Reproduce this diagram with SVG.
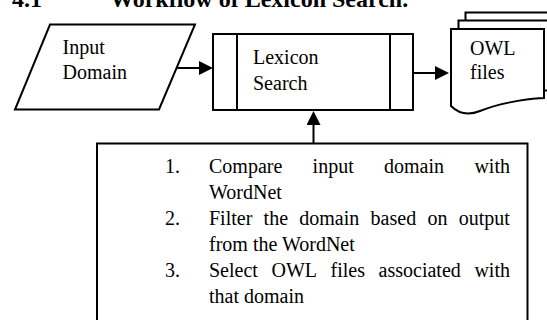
<svg xmlns="http://www.w3.org/2000/svg" width="547" height="320" viewBox="0 0 547 320">
  <style>
    .shape { fill: #ffffff; stroke: #000000; stroke-width: 2; }
    .edge { fill: none; stroke: #000000; stroke-width: 2; }
    .label { font-family: "Liberation Serif", "Times New Roman", serif; font-size: 20px; fill: #000000; }
    .title { font-family: "Liberation Serif", "Times New Roman", serif; font-size: 24px; font-weight: bold; fill: #000000; }
  </style>
  <defs>
    <marker id="arrow" markerUnits="userSpaceOnUse" markerWidth="14" markerHeight="14" refX="0" refY="7" orient="auto">
      <path d="M0,0 L14,7 L0,14 Z" fill="#000000"/>
    </marker>
  </defs>

  <rect x="0" y="0" width="547" height="320" fill="#ffffff"/>

  <!-- section heading, clipped at the top edge -->
  <g id="heading">
    <text class="title" x="12" y="7">4.1</text>
    <text class="title" x="110" y="7">Workflow of Lexicon Search.</text>
  </g>

  <!-- input (parallelogram) -->
  <g id="input-domain">
    <polygon class="shape" points="50,24.5 195,24.5 159,109.5 15,109.5"/>
    <text class="label" x="62.5" y="53.5">Input</text>
    <text class="label" x="62.5" y="79">Domain</text>
  </g>

  <!-- predefined process -->
  <g id="lexicon-search">
    <rect class="shape" x="213" y="34" width="200" height="76"/>
    <line class="edge" x1="237" y1="34" x2="237" y2="110"/>
    <line class="edge" x1="390" y1="34" x2="390" y2="110"/>
    <text class="label" x="253" y="64">Lexicon</text>
    <text class="label" x="253" y="90">Search</text>
  </g>

  <!-- stacked documents -->
  <g id="owl-files">
    <rect class="shape" x="465.5" y="12.5" width="100" height="70"/>
    <rect class="shape" x="458.5" y="20.5" width="100" height="70"/>
    <path class="shape" d="M451,29 H544 V98 C520,99 495,105 480,111 C470,115 460,115 451,106 Z"/>
    <text class="label" x="470" y="54.5">OWL</text>
    <text class="label" x="470" y="79">files</text>
  </g>

  <!-- steps box (justified lines placed word by word) -->
  <g id="steps">
    <rect class="shape" x="97" y="143.5" width="430.5" height="190"/>
    <g class="label">
      <text x="165" y="173">1.</text>
      <text y="173"><tspan x="209">Compare</tspan><tspan x="312.6">input</tspan><tspan x="384">domain</tspan><tspan x="474.4">with</tspan></text>
      <text x="209" y="199">WordNet</text>
      <text x="165" y="225">2.</text>
      <text y="225"><tspan x="209">Filter</tspan><tspan x="263.6">the</tspan><tspan x="299.3">domain</tspan><tspan x="370.6">based</tspan><tspan x="427.4">on</tspan><tspan x="458.8">output</tspan></text>
      <text x="209" y="251">from the WordNet</text>
      <text x="165" y="277">3.</text>
      <text y="277"><tspan x="209">Select</tspan><tspan x="271.5">OWL</tspan><tspan x="330.6">files</tspan><tspan x="378.6">associated</tspan><tspan x="474.4">with</tspan></text>
      <text x="209" y="303">that domain</text>
    </g>
  </g>

  <!-- connectors -->
  <g id="connectors">
    <line class="edge" x1="177" y1="68" x2="199" y2="68" marker-end="url(#arrow)"/>
    <line class="edge" x1="413" y1="73" x2="435" y2="73" marker-end="url(#arrow)"/>
    <line class="edge" x1="313.5" y1="143.5" x2="313.5" y2="125" marker-end="url(#arrow)"/>
  </g>
</svg>
